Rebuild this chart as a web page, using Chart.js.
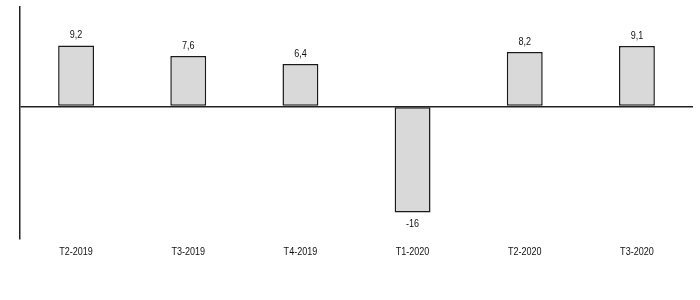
<html lang="fr">
<head>
<meta charset="utf-8">
<script src="https://cdn.jsdelivr.net/npm/chart.js"></script>
<style>
    html, body { margin: 0; background: #fff; }
    #wrap { width: 700px; height: 300px; }
</style>
</head>
<body>
<div id="wrap"><canvas id="chart"></canvas></div>
<script>
    const categories = ["T2-2019", "T3-2019", "T4-2019", "T1-2020", "T2-2020", "T3-2020"];
    const values = [9.2, 7.6, 6.4, -16, 8.2, 9.1];
    const valueLabels = ["9,2", "7,6", "6,4", "-16", "8,2", "9,1"];

    const fontName = "'Liberation Sans', Arial, sans-serif";
    const squeeze = 0.82; // reference uses a narrow font

    function narrowText(ctx, text, x, y) {
        ctx.save();
        ctx.translate(x, y);
        ctx.scale(squeeze, 1);
        ctx.fillText(text, 0, 0);
        ctx.restore();
    }

    // value labels on bars + category labels under the plot
    const textLayer = {
        id: 'textLayer',
        afterDatasetsDraw(chart) {
            const ctx = chart.ctx;
            const meta = chart.getDatasetMeta(0);
            const xs = chart.scales.x;
            ctx.save();
            ctx.font = "11px " + fontName;
            ctx.fillStyle = "#111";
            ctx.textAlign = "center";
            meta.data.forEach(function (bar, i) {
                if (values[i] >= 0) {
                    ctx.textBaseline = "bottom";
                    narrowText(ctx, valueLabels[i], bar.x, bar.y - 5);
                } else {
                    ctx.textBaseline = "top";
                    narrowText(ctx, valueLabels[i], bar.x, bar.y + 6);
                }
            });
            ctx.textBaseline = "middle";
            categories.forEach(function (c, i) {
                narrowText(ctx, c, xs.getPixelForValue(i), chart.chartArea.bottom + 13);
            });
            ctx.restore();
        }
    };

    new Chart(document.getElementById('chart'), {
        type: 'bar',
        data: {
            labels: categories,
            datasets: [{
                data: values,
                backgroundColor: "#d9d9d9",
                borderColor: "#1a1a1a",
                borderWidth: 1.5,
                borderSkipped: false,
                categoryPercentage: 1,
                barPercentage: 0.32
            }]
        },
        options: {
            responsive: true,
            maintainAspectRatio: false,
            animation: false,
            layout: { padding: { left: 20, right: 7, top: 7, bottom: 53 } },
            plugins: {
                legend: { display: false },
                tooltip: { enabled: false }
            },
            scales: {
                x: {
                    grid: { display: false },
                    border: { display: false },
                    ticks: { display: false }
                },
                y: {
                    min: -20,
                    max: 15,
                    ticks: { display: false, stepSize: 5 },
                    border: { display: true, color: "#222", width: 1.5 },
                    grid: {
                        drawTicks: false,
                        lineWidth: 1.5,
                        color: function (c) { return c.tick && c.tick.value === 0 ? "#222" : "rgba(0,0,0,0)"; }
                    }
                }
            }
        },
        plugins: [textLayer]
    });
</script>
</body>
</html>
